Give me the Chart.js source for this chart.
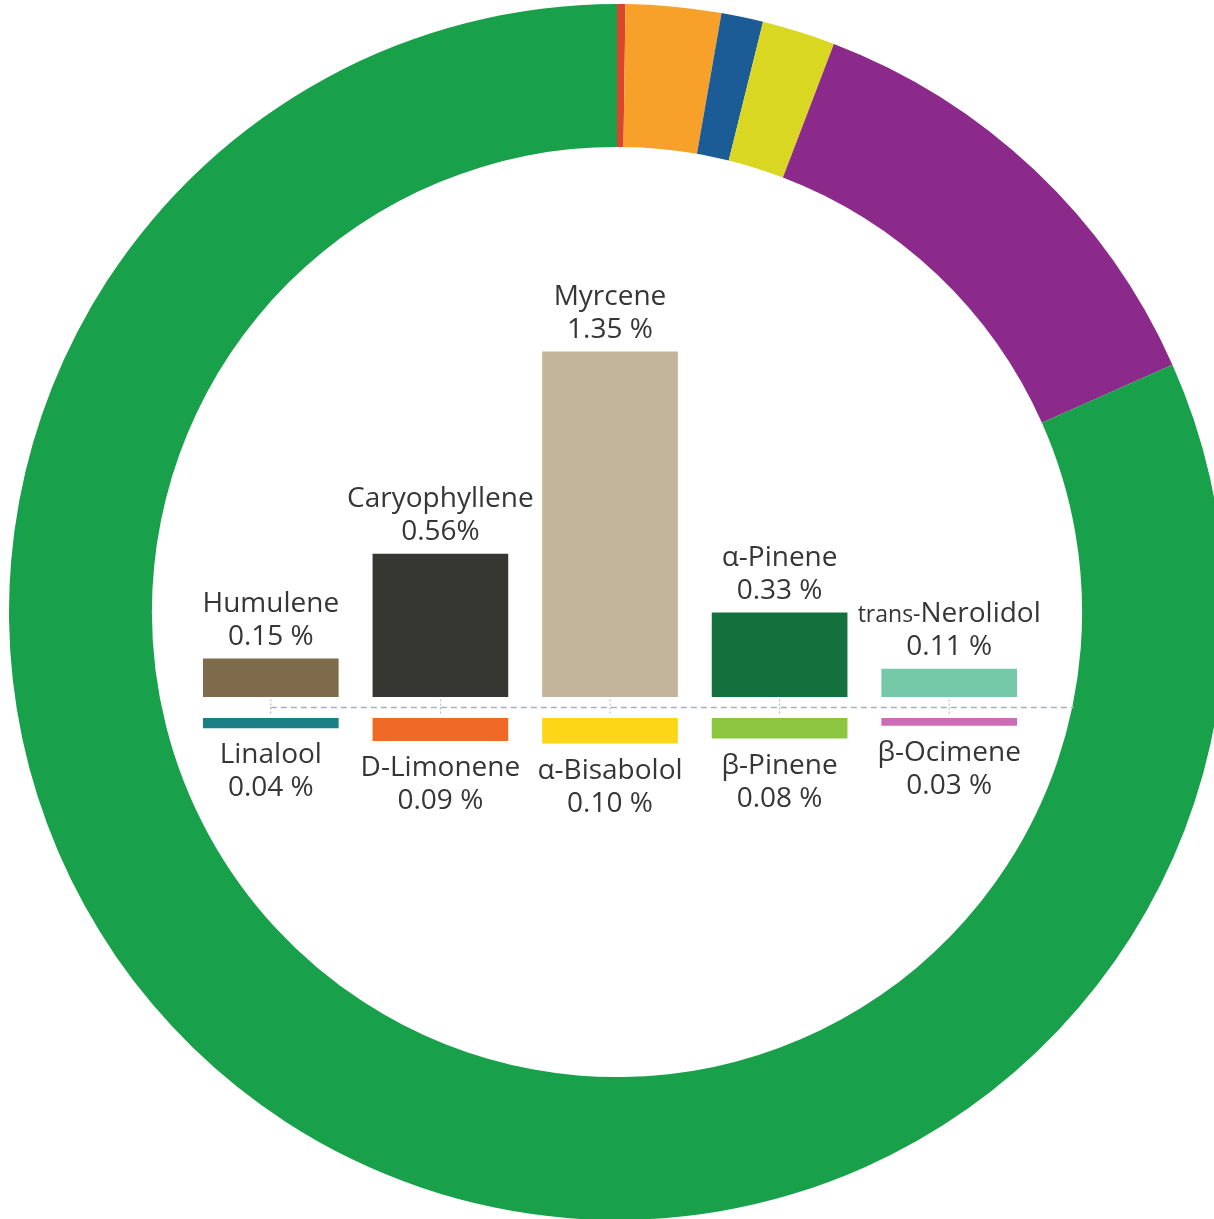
<!DOCTYPE html>
<html>
<head>
<meta charset="utf-8">
<script src="https://cdn.jsdelivr.net/npm/chart.js@4.4.1/dist/chart.umd.min.js"></script>
<style>
  html, body { margin:0; padding:0; background:#fff; overflow:hidden; width:1214px; height:1219px; }
  #ring { position:absolute; left:9px; top:4px; }
  #bars { position:absolute; left:0; top:0; }
</style>
</head>
<body>
<canvas id="ring" width="1216" height="1216"></canvas>
<canvas id="bars" width="1214" height="1219"></canvas>
<script>
// outer ring (share of the circle, degrees)
const ringLabels = ['Red', 'Orange', 'Blue', 'Yellow', 'Purple', 'Green'];
const ringValues = [0.8, 9.1, 4.0, 7.0, 45.1, 294.0];
const ringColors = ['#d8472b', '#f7a12b', '#1b5b96', '#dad723', '#8b2a8b', '#19a04b'];

// terpenes above the line
const topNames = ['Humulene', 'Caryophyllene', 'Myrcene', 'α-Pinene', 'trans-Nerolidol'];
const topValues = [0.15, 0.56, 1.35, 0.33, 0.11];
const topText = ['0.15 %', '0.56%', '1.35 %', '0.33 %', '0.11 %'];
const topColors = ['#7e6b4b', '#363733', '#c2b59b', '#13713e', '#75c9a9'];

// terpenes below the line
const bottomNames = ['Linalool', 'D-Limonene', 'α-Bisabolol', 'β-Pinene', 'β-Ocimene'];
const bottomValues = [0.04, 0.09, 0.10, 0.08, 0.03];
const bottomText = ['0.04 %', '0.09 %', '0.10 %', '0.08 %', '0.03 %'];
const bottomColors = ['#1b7f87', '#ee6a26', '#fdd617', '#8cc63f', '#cc6cb6'];

const GAP = 0.041; // half gap between upper and lower bars
const TEXT = '#363636';
const FONT = '"Open Sans", "Noto Sans", sans-serif';
const SIZE = 28;

new Chart(document.getElementById('ring'), {
  type: 'doughnut',
  data: {
    labels: ringLabels,
    datasets: [{ data: ringValues, backgroundColor: ringColors, borderWidth: 0 }]
  },
  options: {
    responsive: false,
    animation: false,
    cutout: '76.5%',
    layout: { padding: 0 },
    plugins: { legend: { display: false }, tooltip: { enabled: false } }
  }
});

function drawName(ctx, name, cx, cy) {
  const base = cy + SIZE * 0.36;
  ctx.textBaseline = 'alphabetic';
  if (name.startsWith('trans-')) {
    const small = 'trans-', rest = name.slice(6);
    ctx.font = '23px ' + FONT;
    const w1 = ctx.measureText(small).width;
    ctx.font = SIZE + 'px ' + FONT;
    const w2 = ctx.measureText(rest).width;
    const x0 = cx - (w1 + w2) / 2;
    ctx.textAlign = 'left';
    ctx.font = '23px ' + FONT;
    ctx.fillText(small, x0, base);
    ctx.font = SIZE + 'px ' + FONT;
    ctx.fillText(rest, x0 + w1, base);
  } else {
    ctx.font = SIZE + 'px ' + FONT;
    ctx.textAlign = 'center';
    ctx.fillText(name, cx, base);
  }
}

function drawValue(ctx, txt, cx, cy) {
  ctx.font = SIZE + 'px ' + FONT;
  ctx.textAlign = 'center';
  ctx.textBaseline = 'alphabetic';
  ctx.fillText(txt, cx, cy + SIZE * 0.36);
}

const labelPlugin = {
  id: 'terpLabels',
  afterDatasetsDraw(chart) {
    const ctx = chart.ctx;
    const xs = chart.scales.x, ys = chart.scales.y;
    const y0 = ys.getPixelForValue(0);
    ctx.save();
    // dashed baseline
    ctx.strokeStyle = '#a9b0b8';
    ctx.lineWidth = 1.5;
    ctx.setLineDash([6, 4]);
    ctx.beginPath();
    ctx.moveTo(xs.getPixelForValue(0), y0);
    ctx.lineTo(chart.chartArea.right + 40, y0);
    ctx.stroke();
    // small dotted marks at each category
    ctx.lineWidth = 1;
    ctx.setLineDash([2, 2]);
    topNames.forEach((_, i) => {
      const cx = xs.getPixelForValue(i);
      ctx.beginPath();
      ctx.moveTo(cx, y0 - 8);
      ctx.lineTo(cx, y0 + 8);
      ctx.stroke();
    });
    ctx.setLineDash([]);
    ctx.fillStyle = TEXT;
    topNames.forEach((n, i) => {
      const cx = xs.getPixelForValue(i);
      const top = ys.getPixelForValue(GAP + topValues[i]);
      drawName(ctx, n, cx, top - 57);
      drawValue(ctx, topText[i], cx, top - 24);
    });
    bottomNames.forEach((n, i) => {
      const cx = xs.getPixelForValue(i);
      const bot = ys.getPixelForValue(-GAP - bottomValues[i]);
      drawName(ctx, n, cx, bot + 25);
      drawValue(ctx, bottomText[i], cx, bot + 58);
    });
    ctx.restore();
  }
};

new Chart(document.getElementById('bars'), {
  type: 'bar',
  data: {
    labels: topNames,
    datasets: [
      { data: topValues.map(v => [GAP, GAP + v]), backgroundColor: topColors },
      { data: bottomValues.map(v => [-GAP, -GAP - v]), backgroundColor: bottomColors }
    ]
  },
  options: {
    responsive: false,
    animation: false,
    layout: { padding: { left: 186, right: 180, top: 298, bottom: 102 } },
    datasets: { bar: { grouped: false, barPercentage: 0.8, categoryPercentage: 1, borderWidth: 0 } },
    scales: {
      x: { display: false },
      y: { display: false, min: -1.6, max: 1.6 }
    },
    plugins: { legend: { display: false }, tooltip: { enabled: false } }
  },
  plugins: [labelPlugin]
});
</script>
</body>
</html>
